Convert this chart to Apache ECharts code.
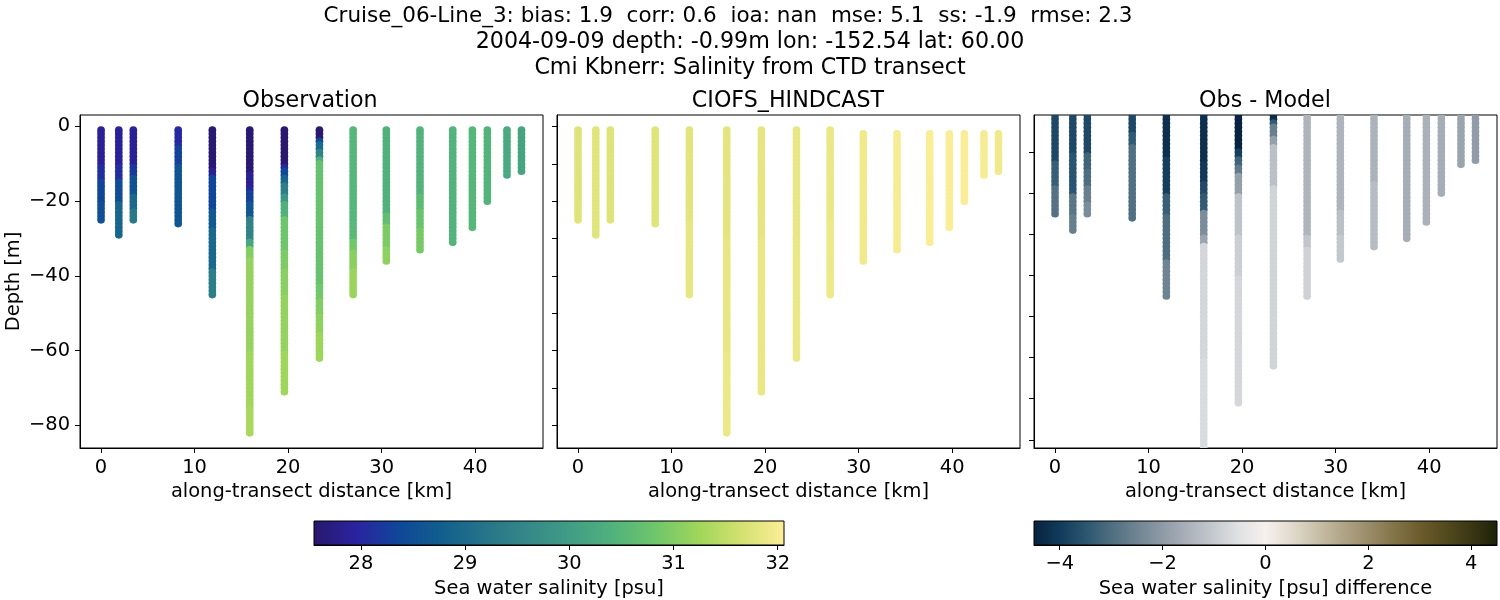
<!DOCTYPE html>
<html>
<head>
<meta charset="utf-8">
<script src="https://cdn.jsdelivr.net/npm/echarts@6/dist/echarts.min.js"></script>
<style>html,body{margin:0;padding:0;background:#fff}#c{width:1500px;height:600px}</style>
</head>
<body>
<div id="c"></div>
<script>
// Station positions along the transect [km] and deepest sample [m]
const stationKm = [0, 1.9, 3.45, 8.25, 11.9, 15.9, 19.6, 23.35, 26.95, 30.5, 34.1, 37.6, 39.7, 41.3, 43.4, 44.95];
const stationBottom = [25, 29, 25, 26, 45, 82, 71, 62, 45, 36, 33, 31, 27, 20, 13, 12];
const modelFirstDepth = [1, 1, 1, 1, 1, 1, 1, 1, 1, 2, 2, 2, 2, 2, 2, 2];

// Read profiles: [deepest metre of the layer, value of the layer]
const obsProfiles = [
  [[10, 27.87], [14, 28.1], [20, 28.35], [25, 28.5]],
  [[10, 27.9], [14, 28.1], [20, 28.45], [29, 28.9]],
  [[10, 27.9], [13, 28.2], [18, 28.55], [22, 28.95], [25, 29.3]],
  [[5, 28.0], [10, 28.3], [26, 28.6]],
  [[11, 27.6], [13, 27.85], [22, 28.35], [27, 28.7], [38, 28.95], [45, 29.4]],
  [[12, 27.6], [16, 27.85], [17, 28.0], [20, 28.3], [24, 28.65], [30, 29.5], [32, 30.2], [35, 31.0], [60, 31.15], [75, 31.25], [82, 31.32]],
  [[10, 27.6], [11, 28.0], [13, 28.4], [15, 28.9], [18, 29.4], [20, 29.9], [24, 30.4], [33, 30.8], [38, 30.95], [45, 31.05], [60, 31.15], [71, 31.25]],
  [[3, 27.6], [4, 28.4], [6, 29.0], [8, 29.5], [9, 30.3], [42, 30.72], [46, 30.85], [50, 31.0], [55, 31.1], [62, 31.22]],
  [[25, 30.5], [30, 30.55], [33, 30.85], [38, 31.05], [45, 31.2]],
  [[23, 30.4], [26, 30.65], [32, 30.95], [36, 31.1]],
  [[18, 30.45], [22, 30.6], [27, 30.75], [33, 30.9]],
  [[31, 30.45]],
  [[27, 30.5]],
  [[20, 30.45]],
  [[13, 30.25]],
  [[12, 30.15]]
];
const modelProfiles = [
  [[25, 31.75]],
  [[29, 31.77]],
  [[25, 31.75]],
  [[26, 31.76]],
  [[25, 31.79], [45, 31.83]],
  [[30, 31.8], [60, 31.84], [82, 31.88]],
  [[30, 31.82], [71, 31.86]],
  [[30, 31.84], [62, 31.88]],
  [[25, 31.87], [45, 31.9]],
  [[36, 31.93]],
  [[33, 32.0]],
  [[31, 32.03]],
  [[27, 32.03]],
  [[20, 32.03]],
  [[13, 32.0]],
  [[12, 31.93]]
];
const diffProfiles = [
  [[12, -3.75], [18, -3.3], [25, -2.9]],
  [[10, -3.75], [20, -3.5], [25, -2.8], [29, -2.6]],
  [[10, -3.75], [14, -3.2], [18, -3.0], [22, -2.6], [25, -2.3]],
  [[5, -3.75], [8, -3.4], [26, -2.95]],
  [[11, -4.2], [20, -3.9], [25, -3.3], [36, -3.0], [45, -2.5]],
  [[12, -4.2], [17, -4.0], [20, -3.7], [24, -3.4], [30, -2.3], [32, -1.8], [60, -0.75], [82, -0.65]],
  [[9, -4.45], [11, -3.9], [13, -3.2], [15, -2.7], [20, -1.9], [30, -1.15], [40, -0.9], [71, -0.75]],
  [[2, -4.3], [3, -3.4], [6, -2.6], [8, -1.9], [18, -1.2], [62, -0.8]],
  [[30, -1.45], [33, -1.1], [45, -0.85]],
  [[24, -1.45], [30, -1.2], [36, -1.05]],
  [[17, -1.5], [33, -1.3]],
  [[31, -1.6]],
  [[27, -1.52]],
  [[20, -1.6]],
  [[13, -1.8]],
  [[12, -1.95]]
];

// Tick labels
const xTicks = [0, 10, 20, 30, 40];
const yLabelTicks = [0, -20, -40, -60, -80];
const yMinorTicks = [0, -10, -20, -30, -40, -50, -60, -70, -80];
const salTicks = [28, 29, 30, 31, 32];
const diffTicks = [-4, -2, 0, 2, 4];

// Colour maps (cmocean haline, diff), evenly spaced
const halineColors = ['#29186b', '#2a23a0', '#0f4799', '#125f8e', '#267489', '#358888', '#419d85', '#51b27c', '#6fc66b', '#a0d65b', '#d4e170', '#fdee99'];
const diffColors = ['#07223f', '#113a5a', '#2a5570', '#4e6e80', '#6f8492', '#8e9aa6', '#abb2ba', '#c6cacf', '#e1e2e4', '#f5f1ee', '#e2dacd', '#c9c0aa', '#b0a587', '#998c68', '#837448', '#6c5c2c', '#534a1e', '#3a3614', '#1c2108'];

const titles = [
  'Cruise_06-Line_3: bias: 1.9  corr: 0.6  ioa: nan  mse: 5.1  ss: -1.9  rmse: 2.3',
  '2004-09-09 depth: -0.99m lon: -152.54 lat: 60.00',
  'Cmi Kbnerr: Salinity from CTD transect'
];
const panelTitles = ['Observation', 'CIOFS_HINDCAST', 'Obs - Model'];

function rows(profiles, firstDepth) {
  const out = [];
  profiles.forEach((layers, i) => {
    const start = firstDepth ? firstDepth[i] : 1;
    let k = 0;
    for (let d = start; d <= stationBottom[i]; d++) {
      while (k < layers.length - 1 && d > layers[k][0]) k++;
      out.push([stationKm[i], -d, layers[k][1]]);
    }
  });
  return out;
}
const minus = v => String(v).replace('-', '\u2212');
const FONT = 'DejaVu Sans';
const TICK = 19.44, LABEL = 19.44, TITLE = 22.2;
const suptitleSizes = [21.5, 22.2, 22.2];
const stops = cs => cs.map((c, i) => ({offset: i / (cs.length - 1), color: c}));

const chart = echarts.init(document.getElementById('c'), null, {renderer: 'canvas'});

const panels = [{left: 80, width: 463}, {left: 557, width: 463}, {left: 1034, width: 463}];
const grids = panels.map(p => ({left: p.left, top: 115, width: p.width, height: 333, show: true, borderColor: '#000', borderWidth: 1, backgroundColor: '#fff', outerBoundsMode: 'none'}));
grids.push({left: 314, top: 521, width: 470, height: 24, show: true, borderColor: '#000', borderWidth: 1, outerBoundsMode: 'none',
  backgroundColor: new echarts.graphic.LinearGradient(0, 0, 1, 0, stops(halineColors))});
grids.push({left: 1034, top: 521, width: 463, height: 24, show: true, borderColor: '#000', borderWidth: 1, outerBoundsMode: 'none',
  backgroundColor: new echarts.graphic.LinearGradient(0, 0, 1, 0, stops(diffColors))});

const axisLine = {show: true, onZero: false, lineStyle: {color: '#000', width: 1}};
const tick = vals => ({show: true, length: 5, inside: false, lineStyle: {color: '#000', width: 1}, customValues: vals});
const xAxes = panels.map((p, i) => ({
  type: 'value', gridIndex: i, min: -2.25, max: 47.25, splitLine: {show: false},
  axisLine, axisTick: tick(xTicks),
  axisLabel: {customValues: xTicks, color: '#000', fontFamily: FONT, fontSize: TICK, margin: 10},
  name: 'along-transect distance [km]', nameLocation: 'middle', nameGap: 34,
  nameTextStyle: {color: '#000', fontFamily: FONT, fontSize: LABEL}
}));
xAxes.push({
  type: 'value', gridIndex: 3, min: 27.55, max: 32.06, splitLine: {show: false}, axisLine, axisTick: tick(salTicks),
  axisLabel: {customValues: salTicks, color: '#000', fontFamily: FONT, fontSize: TICK, margin: 9},
  name: 'Sea water salinity [psu]', nameLocation: 'middle', nameGap: 34,
  nameTextStyle: {color: '#000', fontFamily: FONT, fontSize: LABEL}
});
xAxes.push({
  type: 'value', gridIndex: 4, min: -4.5, max: 4.5, splitLine: {show: false}, axisLine, axisTick: tick(diffTicks),
  axisLabel: {customValues: diffTicks, color: '#000', fontFamily: FONT, fontSize: TICK, margin: 9, formatter: minus},
  name: 'Sea water salinity [psu] difference', nameLocation: 'middle', nameGap: 34,
  nameTextStyle: {color: '#000', fontFamily: FONT, fontSize: LABEL}
});
const yAxes = [
  {type: 'value', gridIndex: 0, min: -86.05, max: 3.05, splitLine: {show: false}, axisLine, axisTick: tick(yLabelTicks),
   axisLabel: {customValues: yLabelTicks, color: '#000', fontFamily: FONT, fontSize: TICK, margin: 10, padding: [4, 0, 0, 0], formatter: minus},
   name: 'Depth [m]', nameLocation: 'middle', nameGap: 57, nameRotate: 90,
   nameTextStyle: {color: '#000', fontFamily: FONT, fontSize: LABEL}},
  {type: 'value', gridIndex: 1, min: -86.05, max: 3.05, splitLine: {show: false}, axisLine, axisTick: tick(yMinorTicks), axisLabel: {show: false}},
  {type: 'value', gridIndex: 2, min: -82, max: -1, splitLine: {show: false}, axisLine, axisTick: tick(yMinorTicks), axisLabel: {show: false}},
  {type: 'value', gridIndex: 3, min: 0, max: 1, axisLine: {show: false}, axisTick: {show: false}, axisLabel: {show: false}, splitLine: {show: false}},
  {type: 'value', gridIndex: 4, min: 0, max: 1, axisLine: {show: false}, axisTick: {show: false}, axisLabel: {show: false}, splitLine: {show: false}}
];
const scatter = (i, data) => ({
  type: 'scatter', xAxisIndex: i, yAxisIndex: i, data, symbol: 'circle', symbolSize: 7.7,
  itemStyle: {opacity: 1, borderWidth: 0},
  clip: true, silent: true, animation: false, encode: {x: 0, y: 1}
});
// The difference panel cuts its marks at the frame, which needs a custom series' real clip path.
const clippedDots = (i, data) => ({
  type: 'custom', xAxisIndex: i, yAxisIndex: i, data, clip: true, silent: true, animation: false, encode: {x: 0, y: 1},
  renderItem: (params, api) => {
    const p = api.coord([api.value(0), api.value(1)]);
    return {type: 'circle', shape: {cx: p[0], cy: p[1], r: 3.85}, style: {fill: api.visual('color')}};
  }
});

chart.setOption({
  animation: false,
  backgroundColor: '#fff',
  textStyle: {fontFamily: FONT},
  title: [
    ...titles.map((t, i) => ({text: t, left: [728, 750, 750][i], top: [5, 31, 57][i], textAlign: 'center',
      textStyle: {fontFamily: FONT, fontSize: suptitleSizes[i], fontWeight: 'normal', color: '#000'}, padding: 0})),
    ...panelTitles.map((t, i) => ({text: t, left: [310, 788, 1265][i], top: 90, textAlign: 'center',
      textStyle: {fontFamily: FONT, fontSize: TITLE, fontWeight: 'normal', color: '#000'}, padding: 0}))
  ],
  grid: grids,
  xAxis: xAxes,
  yAxis: yAxes,
  visualMap: [
    {show: false, type: 'continuous', seriesIndex: [0, 1], dimension: 2, min: 27.55, max: 32.06, inRange: {color: halineColors}},
    {show: false, type: 'continuous', seriesIndex: [2], dimension: 2, min: -4.5, max: 4.5, inRange: {color: diffColors}}
  ],
  series: [
    scatter(0, rows(obsProfiles)),
    scatter(1, rows(modelProfiles, modelFirstDepth)),
    clippedDots(2, rows(diffProfiles))
  ]
});
</script>
</body>
</html>
